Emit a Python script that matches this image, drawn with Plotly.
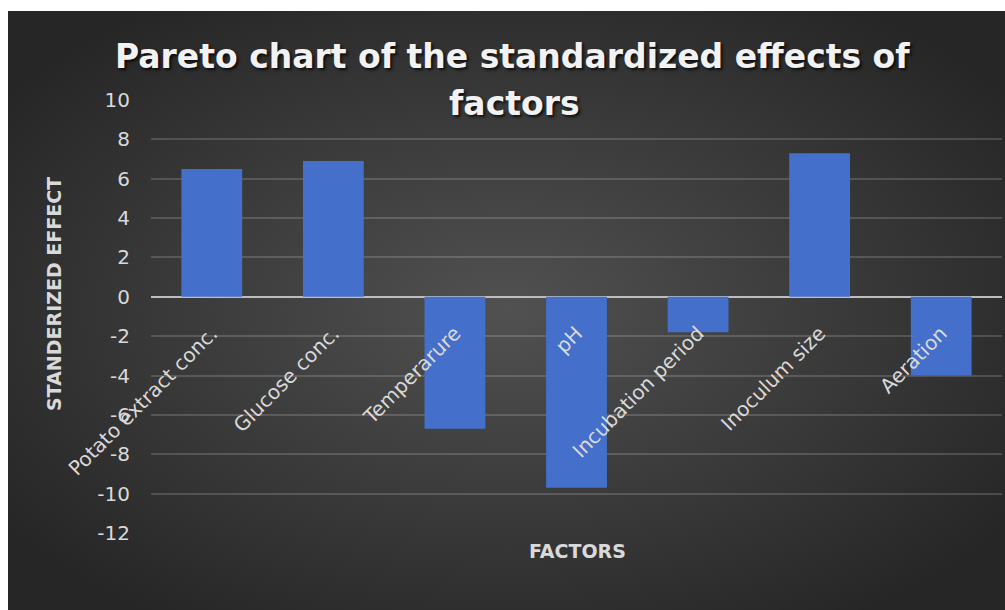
import base64
import plotly.graph_objects as go

# Factor names and their standardized effects
factors = [
    "Potato extract conc.",
    "Glucose conc.",
    "Temperarure",
    "pH",
    "Incubation period",
    "Inoculum size",
    "Aeration",
]
effects = [6.5, 6.9, -6.7, -9.7, -1.8, 7.3, -4.0]

y_ticks = [10, 8, 6, 4, 2, 0, -2, -4, -6, -8, -10, -12]

FONT = "DejaVu Sans, sans-serif"
TEXT = "#d9d9d9"

W, H = 1005, 610
ML, MR, MT, MB = 151, 3, 100, 77
PW, PH = W - ML - MR, H - MT - MB


def px_to_paper_x(px):
    return (px - ML) / PW


def px_to_paper_y(py):
    return (H - MB - py) / PH


# Dark radial-gradient panel behind the chart
svg = (
    '<svg xmlns="http://www.w3.org/2000/svg" width="1000" height="600" '
    'preserveAspectRatio="none" viewBox="0 0 1000 600">'
    '<defs><radialGradient id="g" cx="50%" cy="50%" r="62%">'
    '<stop offset="0" stop-color="#515151"/>'
    '<stop offset="1" stop-color="#262626"/>'
    '</radialGradient></defs>'
    '<rect width="1000" height="600" fill="url(#g)"/></svg>'
)
bg_src = "data:image/svg+xml;base64," + base64.b64encode(svg.encode()).decode()

panel_x0, panel_x1, panel_y0, panel_y1 = 8, 1005, 11, 610

fig = go.Figure(
    go.Bar(
        x=factors,
        y=effects,
        width=0.5,
        marker=dict(color="#4470cb", line=dict(width=0)),
        hoverinfo="x+y",
    )
)

zero_frac = (0 - min(y_ticks)) / (max(y_ticks) - min(y_ticks))

title_font = dict(size=33, color="#f2f2f2", family=FONT,
                  shadow="2px 2px 3px rgba(0,0,0,0.75)")

fig.update_layout(
    width=W,
    height=H,
    margin=dict(l=ML, r=MR, t=MT, b=MB),
    paper_bgcolor="white",
    plot_bgcolor="rgba(0,0,0,0)",
    showlegend=False,
    font=dict(family=FONT, color=TEXT),
    images=[
        dict(
            source=bg_src,
            xref="paper",
            yref="paper",
            x=px_to_paper_x(panel_x0),
            y=px_to_paper_y(panel_y0),
            sizex=px_to_paper_x(panel_x1) - px_to_paper_x(panel_x0),
            sizey=px_to_paper_y(panel_y0) - px_to_paper_y(panel_y1),
            xanchor="left",
            yanchor="top",
            sizing="stretch",
            layer="below",
        )
    ],
    xaxis=dict(
        type="category",
        anchor="free",
        position=zero_frac,
        showgrid=False,
        showline=False,
        zeroline=False,
        ticks="",
        tickangle=-45,
        tickfont=dict(size=20, color=TEXT, family=FONT),
        ticklabelstandoff=20,
    ),
    yaxis=dict(
        range=[min(y_ticks), max(y_ticks)],
        tickvals=y_ticks,
        ticktext=[str(v) for v in y_ticks],
        showgrid=True,
        gridcolor="rgba(255,255,255,0.16)",
        gridwidth=1.5,
        zeroline=True,
        zerolinecolor="#bdbdbd",
        zerolinewidth=1.5,
        showline=False,
        ticks="",
        tickfont=dict(size=20, color=TEXT, family=FONT),
        ticklabelstandoff=20,
    ),
    annotations=[
        dict(
            text="<b>Pareto chart of the standardized effects of</b>",
            xref="paper", yref="paper",
            x=px_to_paper_x(512), y=px_to_paper_y(57),
            xanchor="center", yanchor="middle", showarrow=False,
            font=title_font,
        ),
        dict(
            text="<b>factors</b>",
            xref="paper", yref="paper",
            x=px_to_paper_x(514), y=px_to_paper_y(104),
            xanchor="center", yanchor="middle", showarrow=False,
            font=title_font,
        ),
        dict(
            text="<b>STANDERIZED EFFECT</b>",
            xref="paper", yref="paper",
            x=px_to_paper_x(54), y=px_to_paper_y(294),
            xanchor="center", yanchor="middle", showarrow=False,
            textangle=-90,
            font=dict(size=19, color=TEXT, family=FONT),
        ),
        dict(
            text="<b>FACTORS</b>",
            xref="paper", yref="paper",
            x=px_to_paper_x(577), y=px_to_paper_y(551),
            xanchor="center", yanchor="middle", showarrow=False,
            font=dict(size=19, color=TEXT, family=FONT),
        ),
    ],
)

fig.write_html("out.html")
